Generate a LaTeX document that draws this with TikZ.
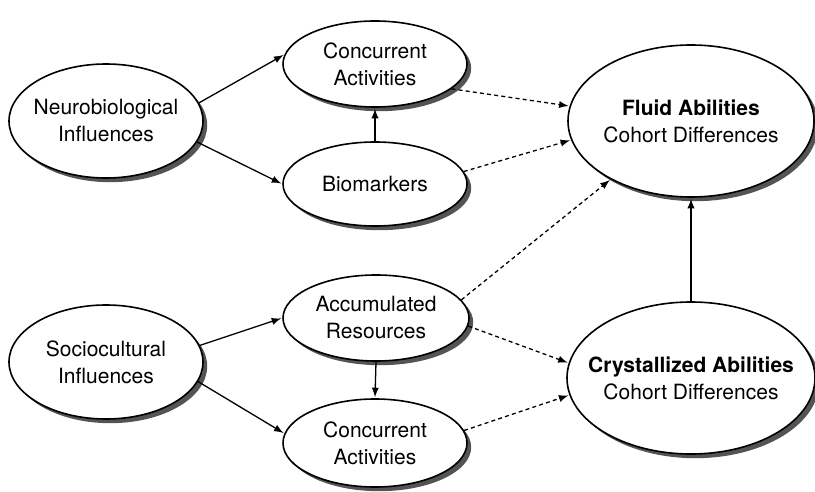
\documentclass[tikz,border=0pt]{standalone}
\usepackage{fontspec}
\setmainfont{TeX Gyre Heros}
\usetikzlibrary{arrows,shapes.geometric,shadows}
\definecolor{shadowgray}{rgb}{0.33,0.33,0.33}

\begin{document}
\begin{tikzpicture}[>=latex,x=0.5pt,y=-0.5pt,
    every node/.style={font=\fontsize{10.5}{13.5}\selectfont},
    oval/.style={ellipse,draw,line width=0.8pt,fill=white,align=center,
      inner xsep=-14pt,inner ysep=0pt,
      drop shadow={shadow xshift=2.1pt,shadow yshift=-2.1pt,fill=shadowgray,opacity=1}},
    link/.style={->,line width=0.65pt,shorten >=0.5pt},
    dlink/.style={link,dash pattern=on 2pt off 1.6pt}]
  \useasboundingbox (0,0) rectangle (815,492);
  % left column
  \node[oval,minimum width=97pt,minimum height=57pt] (neuro) at (106,121) {Neurobiological\\Influences};
  \node[oval,minimum width=97pt,minimum height=57pt] (socio) at (106,362) {Sociocultural\\Influences};
  % middle column
  \node[oval,minimum width=92pt,minimum height=43pt] (concA) at (375,64) {Concurrent\\Activities};
  \node[oval,minimum width=92pt,minimum height=42pt] (bio) at (375,184) {Biomarkers};
  \node[oval,minimum width=93pt,minimum height=43pt] (accum) at (376,318) {Accumulated\\Resources};
  \node[oval,minimum width=92pt,minimum height=44pt] (concB) at (375,443) {Concurrent\\Activities};
  % right column
  \node[oval,minimum width=123pt,minimum height=76pt] (fluid) at (691,121) {\textbf{Fluid Abilities}\\Cohort Differences};
  \node[oval,minimum width=124pt,minimum height=76pt] (cryst) at (691,378) {\textbf{Crystallized Abilities}\\Cohort Differences};
  % solid arrows
  \draw[link] (neuro.11) -- (concA.174);
  \draw[link] (neuro.-13) -- (bio.180);
  \draw[link] (bio.north) -- (concA.south);
  \draw[link] (socio.10) -- (accum.180);
  \draw[link] (socio.-12) -- (concB.174);
  \draw[link] (accum.south) -- (concB.north);
  \draw[link] (cryst.north) -- (fluid.south);
  % dashed arrows
  \draw[dlink] (concA.-18) -- (fluid.173);
  \draw[dlink] (bio.8) -- (fluid.189);
  \draw[dlink] (accum.12) -- (fluid.216);
  \draw[dlink] (accum.-5) -- (cryst.173);
  \draw[dlink] (concB.8) -- (cryst.188);
\end{tikzpicture}
\end{document}
